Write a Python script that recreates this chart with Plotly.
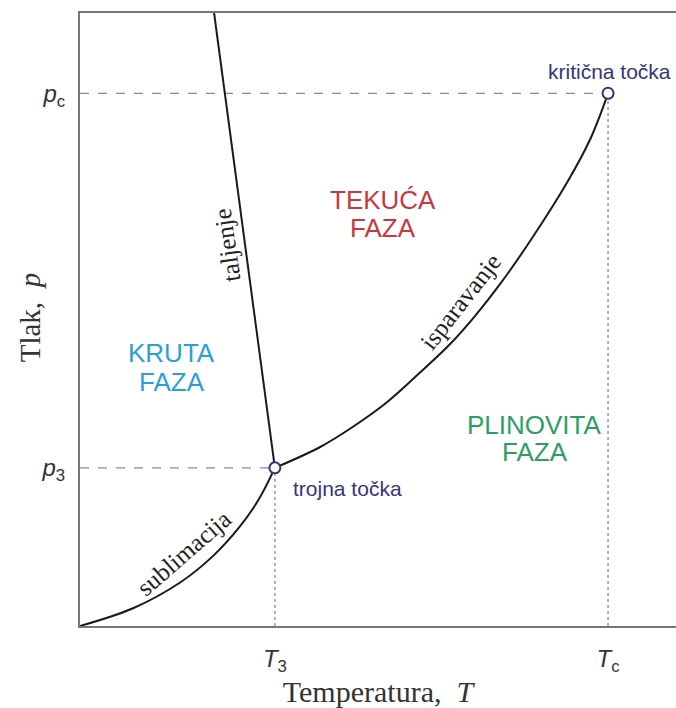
import plotly.graph_objects as go

# Key points (arbitrary units, axis range 0..100)
T3, P3 = 32.7, 25.8
TC, PC = 88.6, 86.9

# Sublimation curve
T_sub = [0.0, 8.9, 16.8, 22.3, 26.8, 29.9, 32.7]
p_sub = [0.0, 2.9, 7.1, 11.4, 16.2, 20.5, 25.8]

# Melting curve
T_melt = [32.7, 22.5]
p_melt = [25.8, 100.0]

# Vaporization curve
T_vap = [32.7, 40.3, 45.8, 51.5, 57.0, 62.1, 66.3, 70.5, 76.0, 81.7, 85.6, 88.6]
p_vap = [25.8, 29.2, 32.5, 36.5, 41.3, 46.0, 50.6, 55.8, 63.5, 72.3, 79.4, 86.9]

x_tickvals = [T3, TC]
x_ticktext = ["<i>T</i><sub>3</sub>", "<i>T</i><sub>c</sub>"]
y_tickvals = [P3, PC]
y_ticktext = ["<i>p</i><sub>3</sub>", "<i>p</i><sub>c</sub>"]

SANS = "Liberation Sans, Arial, sans-serif"
SERIF = "Liberation Serif, Times New Roman, serif"
NAVY = "#35357a"

fig = go.Figure()

# Dashed guides
dash_style = dict(color="#8a8a8a", width=1.3, dash="dash")
dot_style = dict(color="#8a8a8a", width=1.3, dash="dot")
fig.add_trace(go.Scatter(x=[0, TC], y=[PC, PC], mode="lines", line=dash_style, hoverinfo="skip"))
fig.add_trace(go.Scatter(x=[TC, TC], y=[0, PC], mode="lines", line=dot_style, hoverinfo="skip"))
fig.add_trace(go.Scatter(x=[0, T3], y=[P3, P3], mode="lines", line=dash_style, hoverinfo="skip"))
fig.add_trace(go.Scatter(x=[T3, T3], y=[0, P3], mode="lines", line=dot_style, hoverinfo="skip"))

curve = dict(color="#1a1a1a", width=2)
fig.add_trace(go.Scatter(x=T_sub, y=p_sub, mode="lines", line=dict(shape="spline", smoothing=1.0, **curve)))
fig.add_trace(go.Scatter(x=T_melt, y=p_melt, mode="lines", line=curve))
fig.add_trace(go.Scatter(x=T_vap, y=p_vap, mode="lines", line=dict(shape="spline", smoothing=1.0, **curve)))

# Triple and critical points
fig.add_trace(go.Scatter(x=[T3, TC], y=[P3, PC], mode="markers",
                         marker=dict(size=11, color="white", line=dict(color=NAVY, width=2))))

ann = []
def label(x, y, text, size, color, font=SANS, angle=0, xanchor="center"):
    ann.append(dict(x=x, y=y, xref="x", yref="y", text=text, showarrow=False,
                    font=dict(family=font, size=size, color=color),
                    textangle=angle, xanchor=xanchor, yanchor="middle"))

label(88.9, 90.5, "kritična točka", 21, NAVY)
label(35.4, 22.5, "trojna točka", 21, NAVY, xanchor="left")
label(50.8, 69.5, "TEKUĆA", 26, "#c9373f")
label(50.8, 64.9, "FAZA", 26, "#c9373f")
label(15.4, 44.5, "KRUTA", 26, "#2a9fd6")
label(15.4, 39.8, "FAZA", 26, "#2a9fd6")
label(76.3, 32.8, "PLINOVITA", 26, "#2e9e62")
label(76.3, 28.4, "FAZA", 26, "#2e9e62")
label(24.7, 62.2, "taljenje", 25, "#222", font=SERIF, angle=-98)
label(63.9, 52.9, "isparavanje", 25, "#222", font=SERIF, angle=-52)
label(17.3, 11.9, "sublimacija", 25, "#222", font=SERIF, angle=-41)

# y-axis title (placed as annotation for exact position)
ann.append(dict(x=0, y=0.502, xref="paper", yref="paper", xshift=-50,
                text="Tlak,&nbsp; <i>p</i>", showarrow=False, textangle=-90,
                font=dict(family=SERIF, size=29, color="#333"),
                xanchor="center", yanchor="middle"))

fig.update_layout(
    width=676, height=708,
    margin=dict(l=80, r=0, t=13, b=82),
    paper_bgcolor="white", plot_bgcolor="white",
    showlegend=False,
    annotations=ann,
    xaxis=dict(range=[0, 100], showgrid=False, zeroline=False,
               showline=True, linecolor="#777", linewidth=2, mirror=True,
               ticks="", tickvals=x_tickvals, ticktext=x_ticktext,
               tickfont=dict(family=SANS, size=24, color="#333"),
               ticklabelstandoff=10,
               title=dict(text="Temperatura,&nbsp; <i>T</i>",
                          font=dict(family=SERIF, size=30, color="#333"), standoff=0)),
    yaxis=dict(range=[0, 100], showgrid=False, zeroline=False,
               showline=True, linecolor="#777", linewidth=2,
               ticks="", tickvals=y_tickvals, ticktext=y_ticktext,
               tickfont=dict(family=SANS, size=24, color="#333"),
               ticklabelstandoff=8),
)

fig.write_html("out.html", config={"displayModeBar": False},
               post_script="document.body.style.margin='0';document.body.style.overflow='hidden';")
